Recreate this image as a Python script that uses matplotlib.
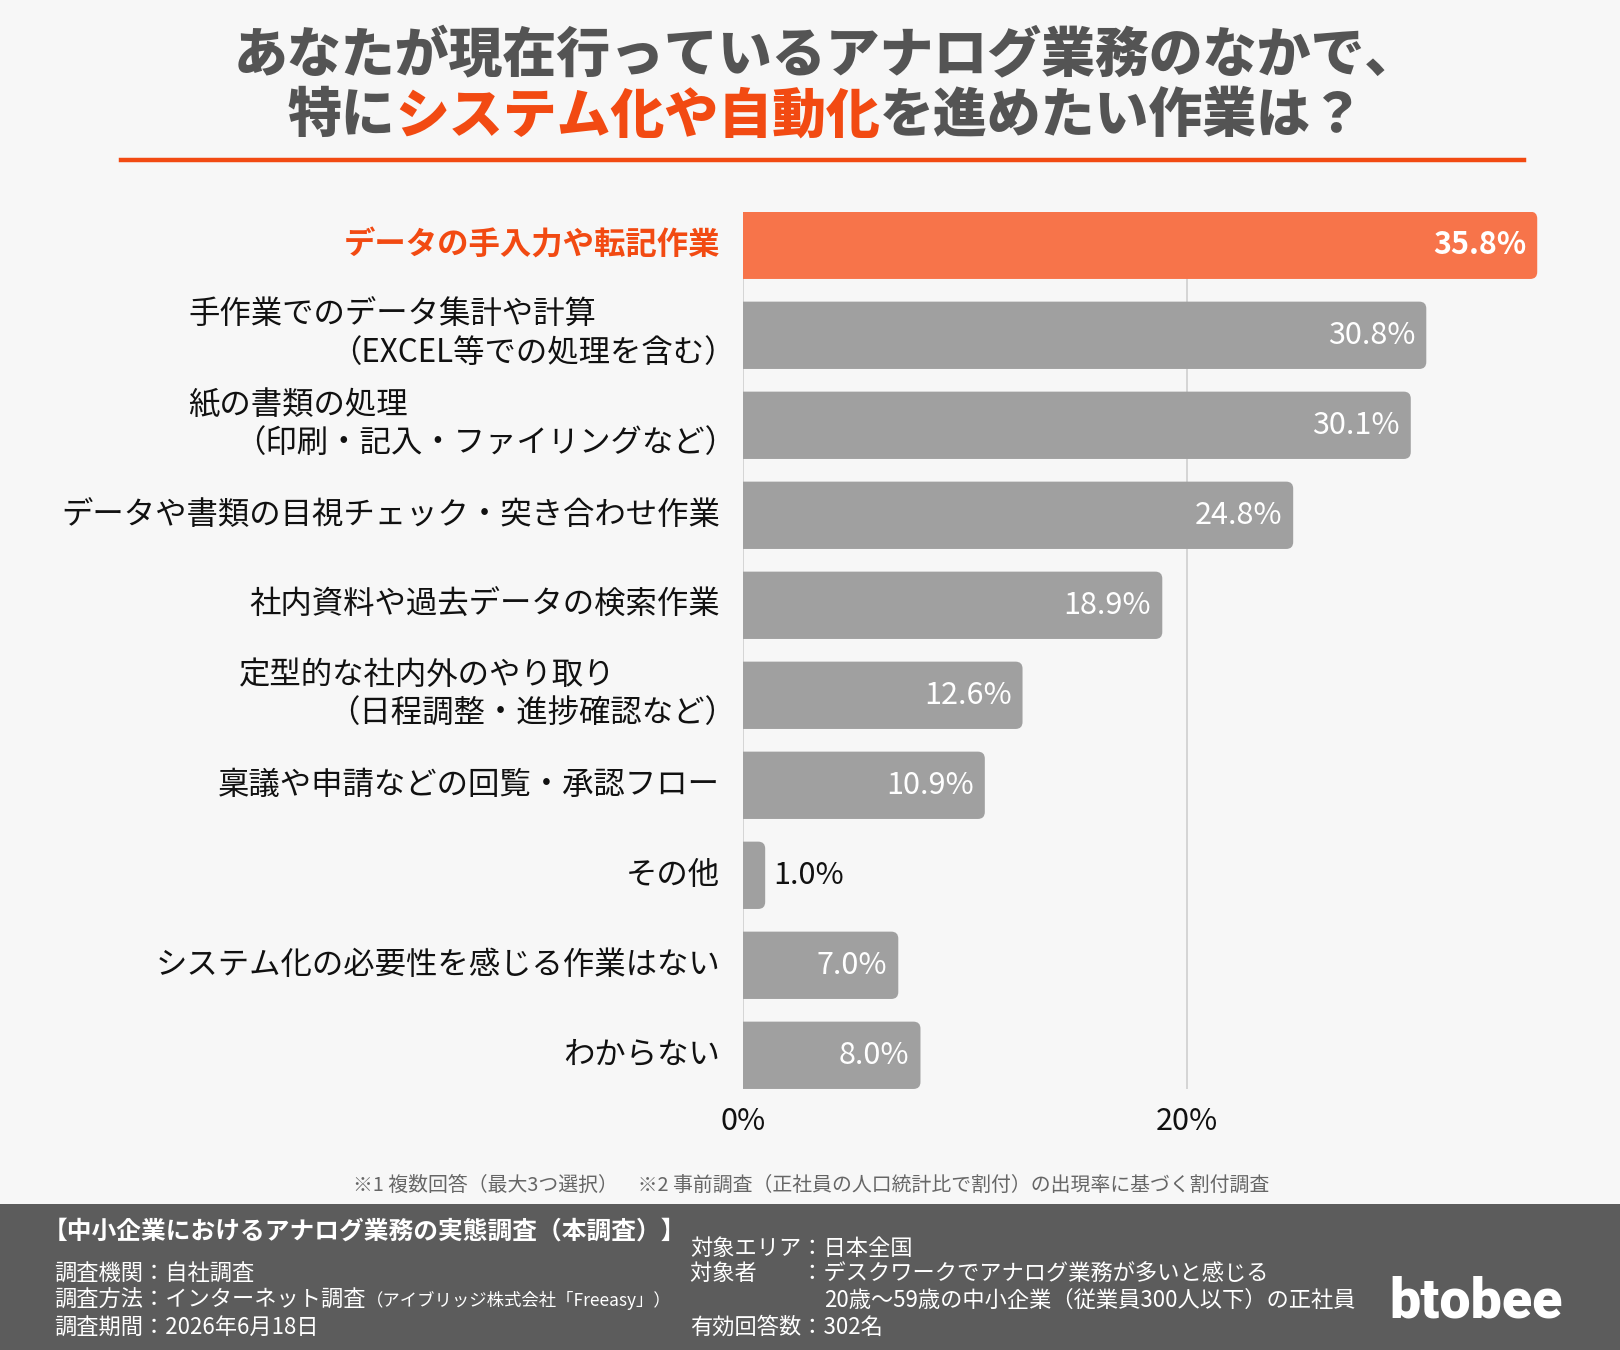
import matplotlib
matplotlib.use("Agg")
import matplotlib.pyplot as plt
import matplotlib.transforms as mtransforms
from matplotlib.patches import FancyBboxPatch, Rectangle
from matplotlib.lines import Line2D

plt.rcParams['font.family'] = ['Noto Sans CJK JP', 'DejaVu Sans']

# ---------------- data ----------------
categories = [
    "データの手入力や転記作業",
    "手作業でのデータ集計や計算\n（EXCEL等での処理を含む）",
    "紙の書類の処理\n（印刷・記入・ファイリングなど）",
    "データや書類の目視チェック・突き合わせ作業",
    "社内資料や過去データの検索作業",
    "定型的な社内外のやり取り\n（日程調整・進捗確認など）",
    "稟議や申請などの回覧・承認フロー",
    "その他",
    "システム化の必要性を感じる作業はない",
    "わからない",
]
values = [35.8, 30.8, 30.1, 24.8, 18.9, 12.6, 10.9, 1.0, 7.0, 8.0]
x_ticks = [0, 20]
x_tick_labels = ["0%", "20%"]

title_line1 = "あなたが現在行っているアナログ業務のなかで、"
title_line2 = ["特に", "システム化や自動化", "を進めたい作業は？"]
footnote = "※1 複数回答（最大3つ選択）　※2 事前調査（正社員の人口統計比で割付）の出現率に基づく割付調査"
footer_head = "【中小企業におけるアナログ業務の実態調査（本調査）】"
footer_left = ["調査機関：自社調査", "調査方法：インターネット調査", "調査期間：2026年6月18日"]
footer_left_small = "（アイブリッジ株式会社「Freeasy」）"
footer_right = ["対象エリア：日本全国", "対象者　　：デスクワークでアナログ業務が多いと感じる",
                "20歳〜59歳の中小企業（従業員300人以下）の正社員", "有効回答数：302名"]
logo = "btobee"

# ---------------- style ----------------
BG = "#f7f7f7"
GRAY_BAR = "#a0a0a0"
ORANGE_BAR = "#f7744a"
ACCENT = "#f24a12"
TITLE_GRAY = "#545454"
FOOT_BG = "#5c5c5c"
LABEL_FS = 22.6
VALUE_FS = 22

W, H = 1620, 1350
fig = plt.figure(figsize=(W / 100, H / 100), dpi=100, facecolor=BG)


def fx(px):
    return px / W


def fy(py):
    return 1 - py / H


# ---------------- axes ----------------
px_per_unit = 22.185
xmax = 36.5
half = 0.374
n = len(values)
ax_left, ax_top = 743, 245.3 - half * 90
ax_bottom = 245.3 + (n - 1) * 90 + half * 90
ax = fig.add_axes([fx(ax_left), fy(ax_bottom), xmax * px_per_unit / W, (ax_bottom - ax_top) / H])
ax.set_facecolor(BG)
ax.set_xlim(0, xmax)
ax.set_ylim(n - 1 + half, -half)
for s in ax.spines.values():
    s.set_visible(False)
ax.set_yticks([])
ax.set_xticks(x_ticks)
ax.set_xticklabels(x_tick_labels, fontsize=22, color="#111111")
ax.tick_params(axis="x", length=0, pad=12)
ax.grid(axis="x", color="#d2d2d2", lw=1.3)
ax.set_axisbelow(True)

r_px = 7
rx = r_px / px_per_unit
aspect = (r_px / 90) / rx
for i, v in enumerate(values):
    color = ORANGE_BAR if i == 0 else GRAY_BAR
    p = FancyBboxPatch((-1, i - half), v + 1, 2 * half,
                       boxstyle=f"round,pad=0,rounding_size={rx}",
                       mutation_aspect=aspect, fc=color, ec="none", zorder=2)
    ax.add_patch(p)
    label = f"{v:.1f}%"
    if v < 3:
        ax.annotate(label, xy=(v, i), xytext=(8, 0), textcoords="offset pixels",
                    ha="left", va="center", fontsize=VALUE_FS, color="#111111", zorder=3)
    else:
        ax.annotate(label, xy=(v, i), xytext=(-11, 0), textcoords="offset pixels",
                    ha="right", va="center", fontsize=VALUE_FS, color="white",
                    fontweight="bold" if i == 0 else "normal", zorder=3)

# category labels
trans = mtransforms.blended_transform_factory(fig.transFigure, ax.transData)
line1_left = {1: 188, 2: 188, 5: 239}
for i, cat in enumerate(categories):
    if "\n" in cat:
        l1, l2 = cat.split("\n")
        ax.annotate(l1, xy=(fx(line1_left[i]), i), xycoords=trans, xytext=(0, 20),
                    textcoords="offset pixels", ha="left", va="center",
                    fontsize=LABEL_FS, color="#111111", annotation_clip=False)
        ax.annotate(l2, xy=(fx(736), i), xycoords=trans, xytext=(0, -18),
                    textcoords="offset pixels", ha="right", va="center",
                    fontsize=LABEL_FS, color="#111111", annotation_clip=False)
    else:
        ax.text(fx(720), i, cat, transform=trans, ha="right", va="center",
                fontsize=LABEL_FS, color=ACCENT if i == 0 else "#111111",
                fontweight="bold" if i == 0 else "normal", clip_on=False)

# ---------------- title ----------------
TITLE_FS = 38.8
TITLE_CX = 826
fig.text(fx(TITLE_CX), fy(56), title_line1, ha="center", va="center", fontsize=TITLE_FS,
         fontweight="heavy", color=TITLE_GRAY)

renderer = fig.canvas.get_renderer()
colors2 = [TITLE_GRAY, ACCENT, TITLE_GRAY]
parts = []
for seg, c in zip(title_line2, colors2):
    t = fig.text(0, fy(116), seg, ha="left", va="center", fontsize=TITLE_FS,
                 fontweight="heavy", color=c)
    parts.append(t)
widths = [t.get_window_extent(renderer).width for t in parts]
x0 = TITLE_CX - sum(widths) / 2
for t, w in zip(parts, widths):
    t.set_x(fx(x0))
    x0 += w

fig.add_artist(Line2D([fx(121), fx(1524)], [fy(160), fy(160)], color=ACCENT, lw=3.2))

# ---------------- footnote ----------------
fig.text(fx(811), fy(1185), footnote, ha="center", va="center", fontsize=14.3, color="#666666")

# ---------------- footer ----------------
fig.add_artist(Rectangle((0, 0), 1, fy(1204), transform=fig.transFigure,
                         fc=FOOT_BG, ec="none", zorder=0))
fig.text(fx(43), fy(1232), footer_head, ha="left", va="center", fontsize=17.8,
         fontweight="bold", color="white")
left_y = [1273, 1300, 1327]
for txt, yy in zip(footer_left, left_y):
    t = fig.text(fx(54), fy(yy), txt, ha="left", va="center", fontsize=16, color="white")
    if txt.startswith("調査方法"):
        w = t.get_window_extent(renderer).width
        fig.text(fx(54 + w), fy(yy), footer_left_small, ha="left", va="center",
                 fontsize=12.5, color="white")
right_pos = [(690, 1248), (690, 1274), (824, 1300), (690, 1327)]
for txt, (xx, yy) in zip(footer_right, right_pos):
    fig.text(fx(xx), fy(yy), txt, ha="left", va="center", fontsize=16, color="white")

fig.text(fx(1476), fy(1302), logo, ha="center", va="center", fontsize=40,
         fontweight="heavy", color="white", family=["Roboto", "Lato", "DejaVu Sans"])

fig.savefig("out.png", dpi=100, facecolor=BG)
